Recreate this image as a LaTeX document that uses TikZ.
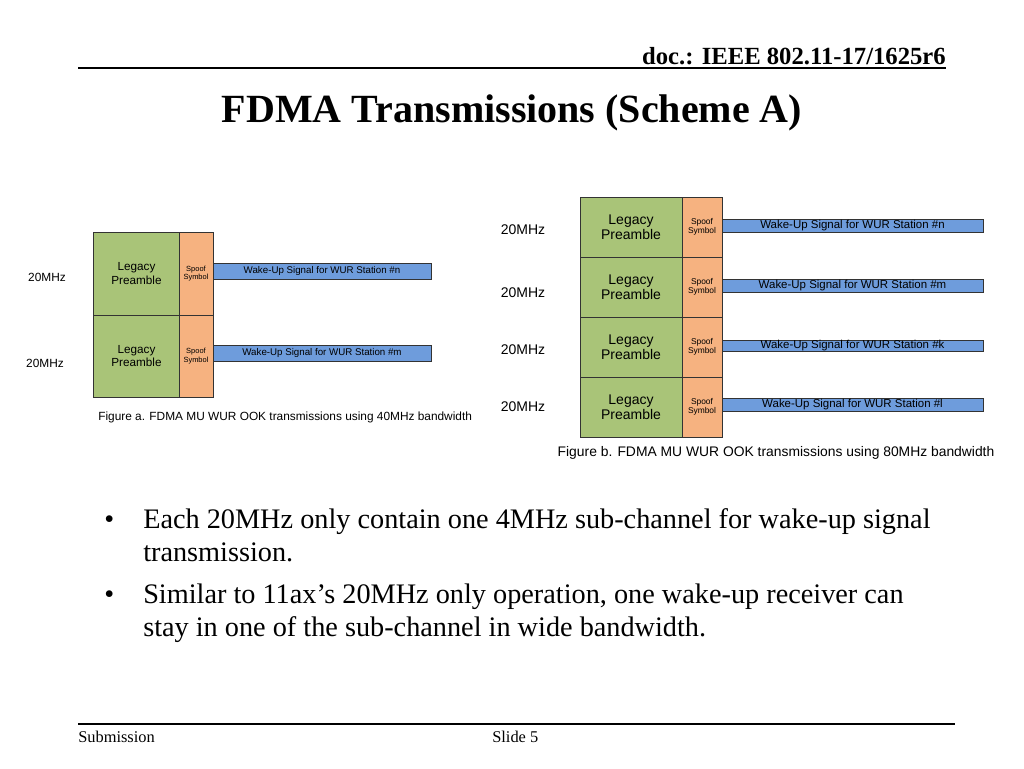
\documentclass[tikz,border=0pt]{standalone}
\usepackage{fontspec}
\setmainfont{Liberation Serif}
\newfontfamily\arial{Liberation Sans}
\definecolor{lgreen}{RGB}{169,196,120}
\definecolor{lorange}{RGB}{246,178,128}
\definecolor{lblue}{RGB}{110,156,220}
\begin{document}
\begin{tikzpicture}[x=0.75pt,y=-0.75pt,
 box/.style={draw=black!80,line width=0.6pt,inner sep=0pt,font=\arial,align=center},
 gbox/.style={box,fill=lgreen,font=\arial\fontsize{8.8}{9.8}\selectfont},
 obox/.style={box,fill=lorange,font=\arial\fontsize{5.6}{6.6}\selectfont},
 bbox/.style={box,fill=lblue,font=\arial\fontsize{7.3}{8}\selectfont},
 lab/.style={font=\arial\fontsize{8.9}{9}\selectfont,inner sep=0pt}]
\useasboundingbox (0,0) rectangle (1024,768);
\node[anchor=east,font=\bfseries\fontsize{18.5}{20}\selectfont,inner sep=0pt] (doc) at (946,56) {doc.: IEEE 802.11-17/1625r6};
\draw[line width=0.8pt] (78,68) -- (946,68);
\node[font=\bfseries\fontsize{30}{34}\selectfont,inner sep=0pt] (title) at (512,113) {FDMA Transmissions (Scheme A)};
% Figure a
\foreach \i/\ya/\yb/\ba/\bb/\st in {1/232/315/263/279/n,2/315/397/345/361/m}{
 \node[gbox,minimum width=64pt,minimum height={(\yb-\ya)*0.75pt}] (ag\i) at (136.5,{(\ya+\yb)/2}) {Legacy\\Preamble};
 \node[obox,minimum width=25.5pt,minimum height={(\yb-\ya)*0.75pt}] (ao\i) at (196,{(\ya+\yb)/2}) {Spoof\\Symbol};
 \node[bbox,minimum width=163.5pt,minimum height=12pt] (ab\i) at (322,{(\ba+\bb)/2}) {Wake-Up Signal for WUR Station \#\st};
}
\node[lab] (af1) at (47,277) {20MHz};
\node[lab] (af2) at (45,363) {20MHz};
\node[lab,anchor=west] (capa) at (98,417) {Figure a. FDMA MU WUR OOK transmissions using 40MHz bandwidth};
% Figure b
\foreach \i/\ya/\ba/\bb/\st/\fy in {1/197/219/232/n/230,2/257/279/292/m/293,3/317/340/351/k/350,4/377/398/411/l/407}{
 \node[gbox,font=\arial\fontsize{10.5}{11}\selectfont,minimum width=76.5pt,minimum height=45pt] (bg\i) at (631,{\ya+30}) {Legacy\\Preamble};
 \node[obox,font=\arial\fontsize{6.3}{7}\selectfont,minimum width=30pt,minimum height=45pt] (bo\i) at (702,{\ya+30}) {Spoof\\Symbol};
 \node[bbox,font=\arial\fontsize{8.6}{9}\selectfont,minimum width=195.75pt,minimum height={(\bb-\ba)*0.75pt}] (bb\i) at (852.5,{(\ba+\bb)/2}) {Wake-Up Signal for WUR Station \#\st};
 \node[lab,font=\arial\fontsize{10.5}{11}\selectfont] (bf\i) at (523,\fy) {20MHz};
}
\node[lab,font=\arial\fontsize{10.4}{11}\selectfont] (capb) at (776,453) {Figure b. FDMA MU WUR OOK transmissions using 80MHz bandwidth};
% bullets
\begin{scope}[every node/.style={font=\fontsize{21.2}{24.75}\selectfont,inner sep=0pt,anchor=base west,align=left}]
\node (d1) at (104,528) {•};
\node (t1) at (143,528) {Each 20MHz only contain one 4MHz sub-channel for wake-up signal};
\node (t1b) at (143,561) {transmission.};
\node (d2) at (104,603) {•};
\node (t2) at (143,603) {Similar to 11ax’s 20MHz only operation, one wake-up receiver can};
\node (t2b) at (143,636) {stay in one of the sub-channel in wide bandwidth.};
\end{scope}
\draw[line width=0.8pt] (78,724) -- (955,724);
\node[anchor=west,font=\fontsize{12.3}{14}\selectfont,inner sep=0pt] (sub) at (78,737) {Submission};
\node[anchor=west,font=\fontsize{12.3}{14}\selectfont,inner sep=0pt] (slide) at (492,737) {Slide 5};
\end{tikzpicture}
\end{document}
